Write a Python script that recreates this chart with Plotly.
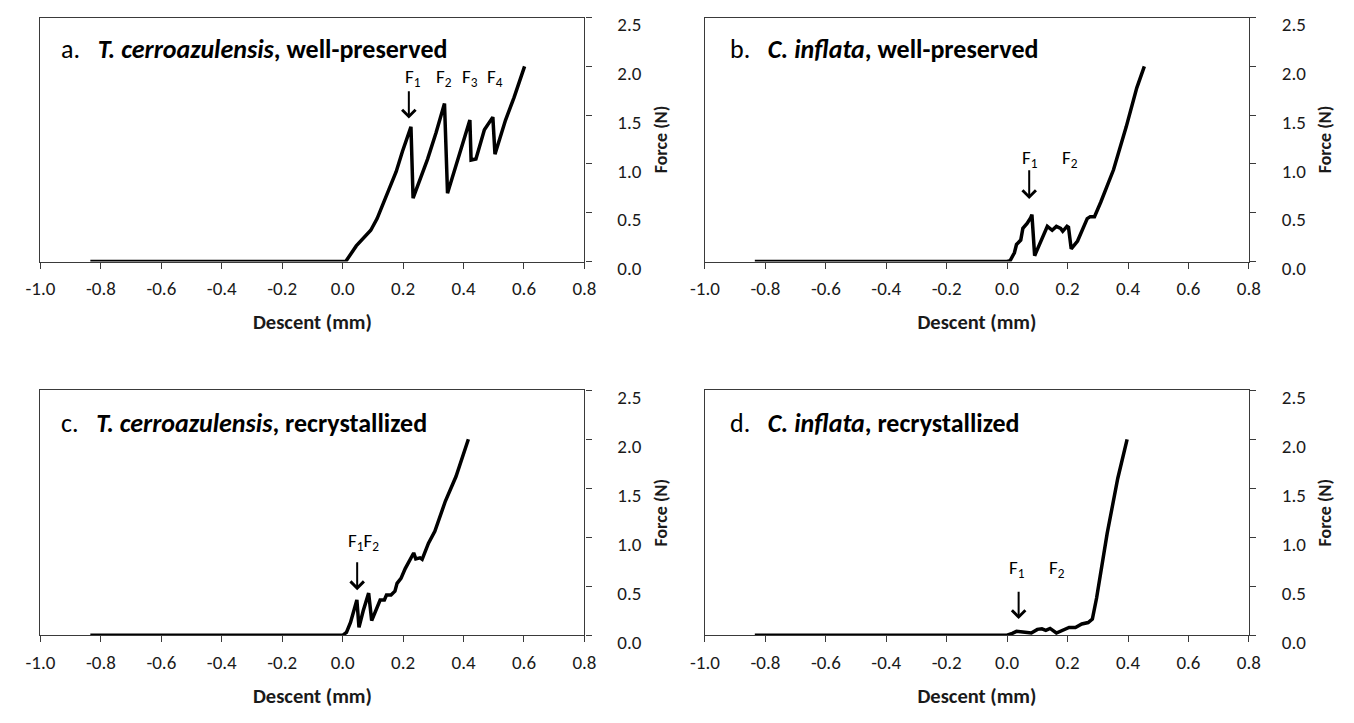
import plotly.graph_objects as go

# ---- data (Descent in mm, Force in N) ----
xa = [-0.835, 0.0, 0.01, 0.045, 0.093, 0.114, 0.142, 0.177, 0.198, 0.212, 0.219, 0.226, 0.233,
      0.281, 0.309, 0.337, 0.347, 0.379, 0.421, 0.425, 0.441, 0.469, 0.483, 0.497, 0.504,
      0.539, 0.567, 0.602]
ya = [0, 0, 0, 0.16, 0.32, 0.44, 0.65, 0.92, 1.13, 1.25, 1.32, 1.38, 0.65,
      1.05, 1.32, 1.62, 0.70, 1.02, 1.45, 1.04, 1.05, 1.35, 1.42, 1.48, 1.10,
      1.45, 1.68, 2.0]

xb = [-0.835, 0.0, 0.01, 0.024, 0.031, 0.045, 0.052, 0.066, 0.078, 0.082, 0.091, 0.108, 0.133,
      0.149, 0.163, 0.177, 0.184, 0.198, 0.203, 0.212, 0.233, 0.265, 0.275, 0.289, 0.31,
      0.352, 0.394, 0.429, 0.454]
yb = [0, 0, 0.01, 0.09, 0.175, 0.22, 0.34, 0.39, 0.45, 0.48, 0.06, 0.19, 0.36,
      0.32, 0.36, 0.34, 0.31, 0.36, 0.35, 0.13, 0.21, 0.44, 0.46, 0.46, 0.61,
      0.94, 1.38, 1.78, 2.0]

xc = [-0.835, 0.0, 0.0125, 0.026, 0.047, 0.054, 0.068, 0.086, 0.096, 0.117, 0.124, 0.138,
      0.145, 0.16, 0.173, 0.18, 0.193, 0.207, 0.22, 0.235, 0.242, 0.256, 0.263, 0.284,
      0.305, 0.34, 0.375, 0.416]
yc = [0, 0, 0.03, 0.13, 0.36, 0.08, 0.25, 0.43, 0.15, 0.31, 0.36, 0.36,
      0.41, 0.41, 0.45, 0.53, 0.58, 0.68, 0.76, 0.84, 0.78, 0.79, 0.775, 0.94,
      1.06, 1.37, 1.62, 2.0]

xd = [-0.835, 0.0, 0.017, 0.031, 0.052, 0.08, 0.1, 0.115, 0.128, 0.142, 0.163, 0.184,
      0.205, 0.226, 0.247, 0.268, 0.282, 0.296, 0.331, 0.366, 0.397]
yd = [0, 0, 0.02, 0.04, 0.033, 0.023, 0.06, 0.066, 0.05, 0.07, 0.023, 0.05,
      0.08, 0.08, 0.115, 0.13, 0.165, 0.38, 1.04, 1.6, 2.0]

panel_titles = [
    "a.\u00a0\u00a0\u00a0<b><i>T. cerroazulensis</i>, well-preserved</b>",
    "b.\u00a0\u00a0\u00a0<b><i>C. inflata</i>, well-preserved</b>",
    "c.\u00a0\u00a0\u00a0<b><i>T. cerroazulensis</i>, recrystallized</b>",
    "d.\u00a0\u00a0\u00a0<b><i>C. inflata</i>, recrystallized</b>",
]

# fracture labels
label_panel = [1, 1, 1, 1, 2, 2, 3, 4, 4]
label_text = ["F<sub>1</sub>", "F<sub>2</sub>", "F<sub>3</sub>", "F<sub>4</sub>",
              "F<sub>1</sub>", "F<sub>2</sub>", "F<sub>1</sub>F<sub>2</sub>",
              "F<sub>1</sub>", "F<sub>2</sub>"]
label_x = [0.232, 0.336, 0.423, 0.505, 0.075, 0.207, 0.068, 0.033, 0.165]
label_y = [1.88, 1.88, 1.88, 1.88, 1.05, 1.05, 0.95, 0.68, 0.68]

# arrows
arrow_panel = [1, 2, 3, 4]
arrow_x = [0.219, 0.073, 0.048, 0.038]
arrow_y_tail = [1.76, 0.95, 0.76, 0.46]
arrow_y_tip = [1.465, 0.64, 0.46, 0.165]

xticks = [-1.0, -0.8, -0.6, -0.4, -0.2, 0.0, 0.2, 0.4, 0.6, 0.8]
xtick_text = ["-1.0", "-0.8", "-0.6", "-0.4", "-0.2", "0.0", "0.2", "0.4", "0.6", "0.8"]
yticks = [0.0, 0.5, 1.0, 1.5, 2.0, 2.5]
ytick_text = ["0.0", "0.5", "1.0", "1.5", "2.0", "2.5"]

W, H = 1354, 723
FONT = "Carlito, Calibri, Lato, sans-serif"
AX = "#3a3a3a"
TXT = "#1a1a1a"

# panel boxes in pixels: left, right, top, bottom
boxes = [(26, 581, 14, 266), (704, 1259, 14, 266), (26, 581, 399, 652), (704, 1259, 399, 652)]

fig = go.Figure()
series = [(xa, ya), (xb, yb), (xc, yc), (xd, yd)]
for i, (xs, ys) in enumerate(series):
    sfx = "" if i == 0 else str(i + 1)
    fig.add_trace(go.Scatter(x=xs, y=ys, mode="lines",
                             line=dict(color="black", width=3.5),
                             xaxis="x" + sfx, yaxis="y" + sfx,
                             showlegend=False, hoverinfo="skip"))

layout = dict(width=W, height=H, margin=dict(l=0, r=0, t=0, b=0),
              paper_bgcolor="white", plot_bgcolor="white",
              font=dict(family=FONT, color=TXT, size=19),
              showlegend=False)

for i, (l, r, t, b) in enumerate(boxes):
    sfx = "" if i == 0 else str(i + 1)
    layout["xaxis" + sfx] = dict(
        domain=[l / W, r / W], range=[-1.0, 0.8], anchor="y" + sfx,
        tickvals=xticks, ticktext=xtick_text, ticks="outside", ticklen=6,
        tickcolor=AX, tickwidth=1.2, showline=True, linecolor=AX, linewidth=1.3,
        mirror=True, showgrid=False, zeroline=False, ticklabelstandoff=4,
        tickfont=dict(size=19, family=FONT, color=TXT),
        title=dict(text="<b>Descent (mm)</b>", standoff=15,
                   font=dict(size=20.5, family=FONT, color=TXT)),
        fixedrange=True)
    layout["yaxis" + sfx] = dict(
        domain=[1 - b / H, 1 - t / H], range=[0, 2.5], anchor="x" + sfx, side="right",
        tickvals=yticks, ticktext=ytick_text, ticks="outside", ticklen=6,
        tickcolor=AX, tickwidth=1.2, showline=True, linecolor=AX, linewidth=1.3,
        mirror=True, showgrid=False, zeroline=False, ticklabelstandoff=22,
        ticklabelshift=7,
        tickfont=dict(size=19, family=FONT, color=TXT),
        title=dict(text="<b>Force (N)</b>", standoff=13,
                   font=dict(size=18, family=FONT, color=TXT)),
        fixedrange=True)

annotations = []
title_pos = [(45, 46), (727, 46), (45, 433), (727, 433)]
for txt, (px, py) in zip(panel_titles, title_pos):
    annotations.append(dict(text=txt, x=px / W, y=1 - py / H, xref="paper", yref="paper",
                            xanchor="left", yanchor="middle", showarrow=False,
                            font=dict(size=26, family=FONT, color="black")))

for p, txt, lx, ly in zip(label_panel, label_text, label_x, label_y):
    sfx = "" if p == 1 else str(p)
    annotations.append(dict(text=txt, x=lx, y=ly, xref="x" + sfx, yref="y" + sfx,
                            xanchor="center", yanchor="middle", showarrow=False,
                            font=dict(size=19, family=FONT, color="black")))

for p, axx, yt, yp in zip(arrow_panel, arrow_x, arrow_y_tail, arrow_y_tip):
    sfx = "" if p == 1 else str(p)
    annotations.append(dict(text="", x=axx, y=yp, ax=axx, ay=yt,
                            xref="x" + sfx, yref="y" + sfx, axref="x" + sfx, ayref="y" + sfx,
                            showarrow=True, arrowhead=4, arrowsize=1.3, arrowwidth=2,
                            arrowcolor="black", standoff=0, startstandoff=0))

layout["annotations"] = annotations
fig.update_layout(**layout)
fig.write_html("out.html", config={"displayModeBar": False},
               post_script="document.body.style.margin='0';")
